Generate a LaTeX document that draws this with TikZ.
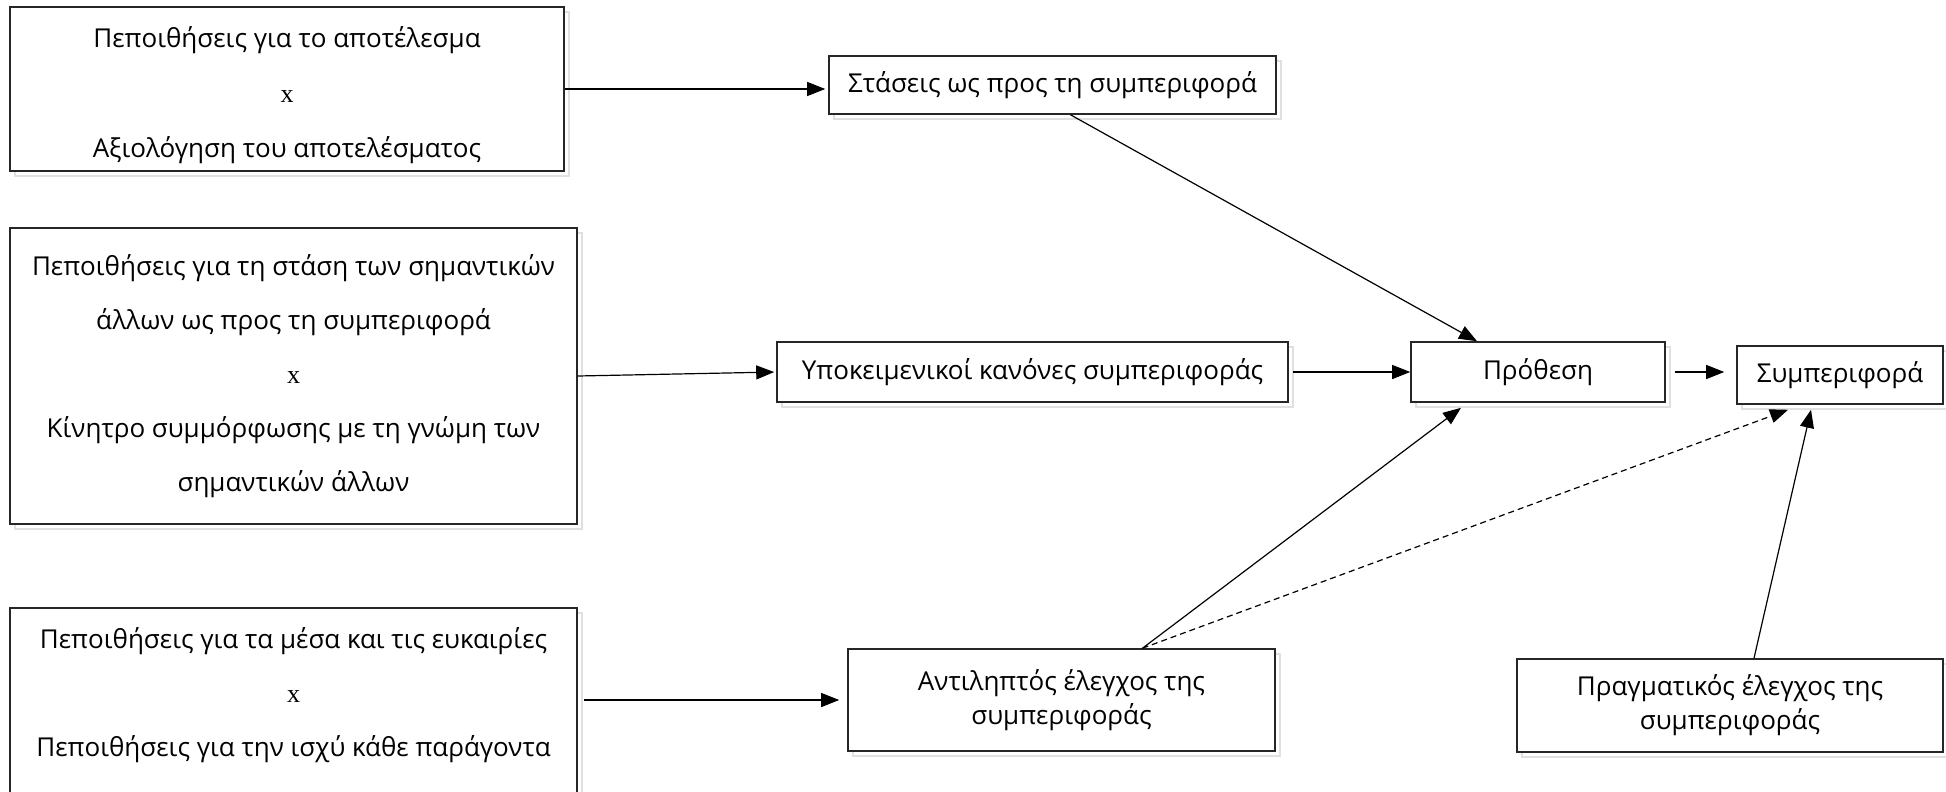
\documentclass[tikz,border=0pt]{standalone}
\usepackage{fontspec}
\setmainfont{Open Sans}
\newfontfamily\tmfont{Liberation Serif}
\usetikzlibrary{arrows.meta,shadows,calc}
\begin{document}
\begin{tikzpicture}[x=1pt,y=-1pt,
  box/.style={draw=black!85,line width=1.6pt,fill=white,rectangle,inner sep=0pt,align=center,
    font=\fontsize{26}{34}\selectfont,
    drop shadow={shadow xshift=5pt,shadow yshift=-5pt,fill=white,draw=black!12,line width=1.5pt,opacity=1}},
  tall/.style={font=\fontsize{26}{54}\selectfont},
  arr/.style={line width=1.2pt,-{Triangle[length=18pt,width=14pt]}},
]
\useasboundingbox[fill=white] (0,0) rectangle (1946,792);

\node[box,minimum width=554,minimum height=164] (b1) at (287,89) {};
\node[tall,align=center,inner sep=0pt,font=\fontsize{26}{55}\selectfont] (b1t) at (287,95)
  {Πεποιθήσεις για το αποτέλεσμα\\ {\tmfont x}\\ Αξιολόγηση του αποτελέσματος};
\node[box,tall,minimum width=567,minimum height=296] (b2) at (293.5,376)
  {Πεποιθήσεις για τη στάση των σημαντικών\\ άλλων ως προς τη συμπεριφορά\\ {\tmfont x}\\ Κίνητρο συμμόρφωσης με τη γνώμη των\\ σημαντικών άλλων};
\node[box,minimum width=567,minimum height=200] (b3) at (293.5,708) {};
\node[tall,align=center,inner sep=0pt] (b3t) at (293.5,695)
  {Πεποιθήσεις για τα μέσα και τις ευκαιρίες\\ {\tmfont x}\\ Πεποιθήσεις για την ισχύ κάθε παράγοντα};

\node[box,minimum width=447,minimum height=58] (s) at (1052.5,85) {Στάσεις ως προς τη συμπεριφορά};
\node[box,minimum width=511,minimum height=60] (y) at (1032.5,372) {Υποκειμενικοί κανόνες συμπεριφοράς};
\node[box,minimum width=254,minimum height=60] (p) at (1538,372) {Πρόθεση};
\node[box,minimum width=206,minimum height=58] (sb) at (1840,375) {Συμπεριφορά};
\node[box,minimum width=427,minimum height=102] (a) at (1061.5,700) {Αντιληπτός έλεγχος της\\ συμπεριφοράς};
\node[box,minimum width=426,minimum height=93] (r) at (1730,705.5) {Πραγματικός έλεγχος της\\ συμπεριφοράς};

\draw[arr,shorten >=3pt] (b1.east) -- (b1.east -| s.west);
\draw[arr,shorten >=2pt] (b2.east) -- (y.west);
\draw[arr] ($(b3.east |- a.west)+(6,0)$) -- ($(a.west)+(-8,0)$);
\draw[arr] ($(s.south)+(18,0)$) -- ($(p.north)+(-61,0)$);
\draw[arr] ($(y.east)+(4,0)$) -- (p.west);
\draw[arr] ($(p.east)+(9,0)$) -- ($(p.east -| sb.west)+(-12,0)$);
\draw[arr] ($(a.north)+(81,0)$) -- ($(p.south)+(-77,5)$);
\draw[arr,dashed,dash pattern=on 6pt off 4pt] ($(a.north)+(81,0)$) -- ($(sb.south)+(-52,5)$);
\draw[arr] ($(r.north)+(24,0)$) -- ($(sb.south)+(-29,5)$);
\end{tikzpicture}
\end{document}
